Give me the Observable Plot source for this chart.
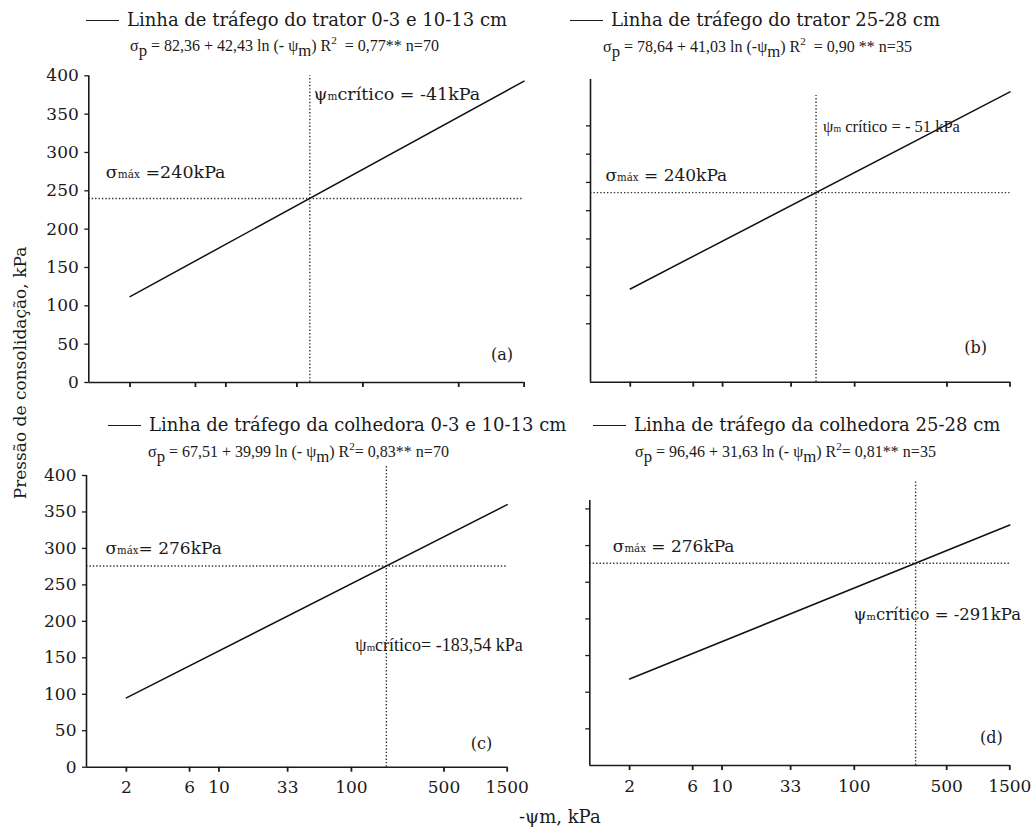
<!DOCTYPE html>
<html lang="pt">
<head>
<meta charset="utf-8">
<script src="https://cdn.jsdelivr.net/npm/d3@7"></script>
<script src="https://cdn.jsdelivr.net/npm/@observablehq/plot@0.6"></script>
<style>
  html,body{margin:0;padding:0;background:#fff;}
  #page{position:relative;width:1035px;height:829px;overflow:hidden;background:#fff;color:#1a1a1a;font-family:"DejaVu Serif",serif;}
  .t{position:absolute;white-space:nowrap;line-height:20px;}
  .title{font-size:18px;}
  .eq{font-family:"Liberation Serif",serif;font-size:16px;}
  .eq sub{font-size:1.05em;vertical-align:-0.3em;line-height:0;}
  .eq sup{font-size:0.7em;vertical-align:0.6em;line-height:0;}
  .leg{display:inline-block;width:33px;height:0;border-top:1.6px solid #1a1a1a;vertical-align:middle;margin-right:8px;position:relative;top:-1px;}
  .panel{position:absolute;}
  .panel svg{max-width:none !important;}
  .ylab{position:absolute;font-size:17px;white-space:nowrap;transform:translate(-50%,-50%) rotate(-90deg);}
  .xlab{position:absolute;font-size:18px;white-space:nowrap;}
</style>
</head>
<body>
<div id="page"></div>
<script>
// ---------- data ----------
const xTicks = [2, 6, 10, 33, 100, 500, 1500];
const yTicks = [0, 50, 100, 150, 200, 250, 300, 350, 400];
const yTicksB = [59, 98, 137, 176, 215, 254, 293, 332];
const yTicksD = [50, 100, 150, 200, 250, 300, 350];
const panelIds = ["a", "b", "c", "d"];
const titles = [
  "Linha de tráfego do trator 0-3 e 10-13 cm",
  "Linha de tráfego do trator 25-28 cm",
  "Linha de tráfego da colhedora 0-3 e 10-13 cm",
  "Linha de tráfego da colhedora 25-28 cm"
];
const equations = [
  "σ<sub>p</sub> = 82,36 + 42,43 ln (- ψ<sub>m</sub>) R<sup>2</sup> &nbsp;= 0,77** n=70",
  "σ<sub>p</sub> = 78,64 + 41,03 ln (-ψ<sub>m</sub>) R<sup>2</sup> &nbsp;= 0,90 ** n=35",
  "σ<sub>p</sub> = 67,51 + 39,99 ln (- ψ<sub>m</sub>) R<sup>2</sup>= 0,83** n=70",
  "σ<sub>p</sub> = 96,46 + 31,63 ln (- ψ<sub>m</sub>) R<sup>2</sup>= 0,81** n=35"
];
const lineX = [2, 1500];
const lineStart = [112, 107, 95, 118];
const lineEnd = [393, 379, 360, 328];
const sigmaMax = [240, 240, 276, 276];
const critical = [41, 51, 183.54, 291];
const sigmaLabels = ["σ|máx| =240kPa", "σ|máx| = 240kPa", "σ|máx|= 276kPa", "σ|máx| = 276kPa"];
const critLabels = ["ψ|m|crítico = -41kPa", "ψ|m| crítico = - 51 kPa", "ψ|m|crítico= -183,54 kPa", "ψ|m|crítico = -291kPa"];

// ---------- layout ----------
const SERIF = "DejaVu Serif", TIMES = "Liberation Serif";
const layout = [
  {box:[0,60,535,340], frame:[88.3,523.6,75.3,382], ydom:[0,400], yt:yTicks, ylab:true, xlab:false,
   critTop:400, critY:376, critDx:4, critFont:SERIF, critSize:17.5,
   sigDx:17, sigDy:-26, sigSize:17.5, letDx:-11, letDy:-23,
   title:[86,10], eq:[130,36]},
  {box:[535,60,500,340], frame:[590,1009.5,79,381.7], ydom:[-21.6,396], yt:yTicksB, ylab:false, xlab:false,
   critTop:374, critY:331, critDx:7, critFont:TIMES, critSize:16.5,
   sigDx:15, sigDy:-17, sigSize:17, letDx:-23, letDy:-29,
   title:[570,10], eq:[603,37]},
  {box:[0,460,535,369], frame:[86,506.7,475,766.7], ydom:[0,400], yt:yTicks, ylab:true, xlab:true,
   critTop:414, critY:167, critDx:-31, critFont:TIMES, critSize:18,
   sigDx:19, sigDy:-17, sigSize:17, letDx:-15, letDy:-18,
   title:[108,415], eq:[148,442]},
  {box:[535,460,500,369], frame:[589.3,1009.3,500,765], ydom:[0,361.5], yt:yTicksD, ylab:false, xlab:true,
   critTop:389, critY:206, critDx:-62, critFont:SERIF, critSize:16.5,
   sigDx:23, sigDy:-17, sigSize:17, letDx:-7, letDy:-23,
   title:[593,415], eq:[635,442]}
];
const xDom = [1, 1500];
const INK = "#1a1a1a";

const page = document.getElementById("page");

function rich(svg) {
  svg.querySelectorAll("text").forEach(t => {
    const s = t.textContent;
    if (!s.includes("|")) return;
    const parts = s.split("|");
    while (t.firstChild) t.removeChild(t.firstChild);
    parts.forEach((p, k) => {
      const ts = document.createElementNS("http://www.w3.org/2000/svg", "tspan");
      ts.textContent = p;
      if (k % 2 === 1) ts.setAttribute("font-size", "0.6em");
      t.appendChild(ts);
    });
  });
}

panelIds.forEach((id, i) => {
  const L = layout[i];
  const [bx, by, bw, bh] = L.box;
  const [x0, x1, y0, y1] = L.frame;
  const lineData = [{x: lineX[0], y: lineStart[i]}, {x: lineX[1], y: lineEnd[i]}];
  const dotted = {stroke: "#333", strokeWidth: 1.4, strokeDasharray: "1.4,2"};
  const marks = [
    Plot.ruleY([sigmaMax[i]], {x1: xDom[0], x2: xDom[1], ...dotted}),
    Plot.ruleX([critical[i]], {y1: L.ydom[0], y2: L.critTop, ...dotted}),
    Plot.line(lineData, {x: "x", y: "y", stroke: "#111", strokeWidth: 1.5}),
    Plot.ruleY([L.ydom[0]], {x1: xDom[0], x2: xDom[1], stroke: INK, strokeWidth: 1.6}),
    Plot.ruleX([xDom[0]], {y1: L.ydom[0], y2: L.ydom[1], stroke: INK, strokeWidth: 1.6}),
    Plot.axisX({ticks: xTicks, tickSize: 5, label: null, tickFormat: () => "",
      stroke: INK, strokeWidth: 1.8}),
    Plot.axisY({ticks: L.yt, tickSize: 4, tickPadding: 6, label: null,
      tickFormat: L.ylab ? (d => String(d)) : (() => ""),
      fontSize: 17, fontFamily: SERIF, stroke: INK, fill: INK, strokeWidth: 1.3}),
    Plot.text([sigmaLabels[i]], {frameAnchor: "left", y: sigmaMax[i], text: d => d,
      dx: L.sigDx, dy: L.sigDy, textAnchor: "start", fontSize: L.sigSize, fontFamily: SERIF, fill: INK}),
    Plot.text([critLabels[i]], {x: critical[i], y: L.critY, text: d => d,
      dx: L.critDx, textAnchor: "start", fontSize: L.critSize, fontFamily: L.critFont, fill: INK}),
    Plot.text(["(" + id + ")"], {frameAnchor: "bottom-right", text: d => d,
      dx: L.letDx, dy: L.letDy, textAnchor: "end", fontSize: 16, fontFamily: SERIF, fill: INK})
  ];
  if (L.xlab) {
    marks.push(Plot.text(xTicks, {x: d => d, frameAnchor: "bottom", lineAnchor: "top", dy: 14,
      text: d => String(d), fontSize: 17, fontFamily: SERIF, fill: INK}));
  }
  const svg = Plot.plot({
    width: bw, height: bh,
    marginLeft: x0 - bx, marginRight: bx + bw - x1,
    marginTop: y0 - by, marginBottom: by + bh - y1,
    x: {type: "log", domain: xDom, label: null},
    y: {domain: L.ydom, label: null},
    style: {background: "transparent", overflow: "visible", fontFamily: SERIF, color: INK},
    marks
  });
  rich(svg);
  const holder = document.createElement("div");
  holder.className = "panel";
  holder.style.left = bx + "px"; holder.style.top = by + "px";
  holder.style.width = bw + "px"; holder.style.height = bh + "px";
  holder.appendChild(svg);
  page.appendChild(holder);

  const tt = document.createElement("div");
  tt.className = "t title";
  tt.style.left = L.title[0] + "px"; tt.style.top = L.title[1] + "px";
  tt.innerHTML = '<span class="leg"></span>' + titles[i];
  page.appendChild(tt);

  const eq = document.createElement("div");
  eq.className = "t eq";
  eq.style.left = L.eq[0] + "px"; eq.style.top = L.eq[1] + "px";
  eq.innerHTML = equations[i];
  page.appendChild(eq);
});

const yl = document.createElement("div");
yl.className = "ylab";
yl.style.left = "20px"; yl.style.top = "373px";
yl.textContent = "Pressão de consolidação, kPa";
page.appendChild(yl);

const xl = document.createElement("div");
xl.className = "xlab";
xl.style.left = "519px"; xl.style.top = "806px";
xl.textContent = "-ψm, kPa";
page.appendChild(xl);
</script>
</body>
</html>
